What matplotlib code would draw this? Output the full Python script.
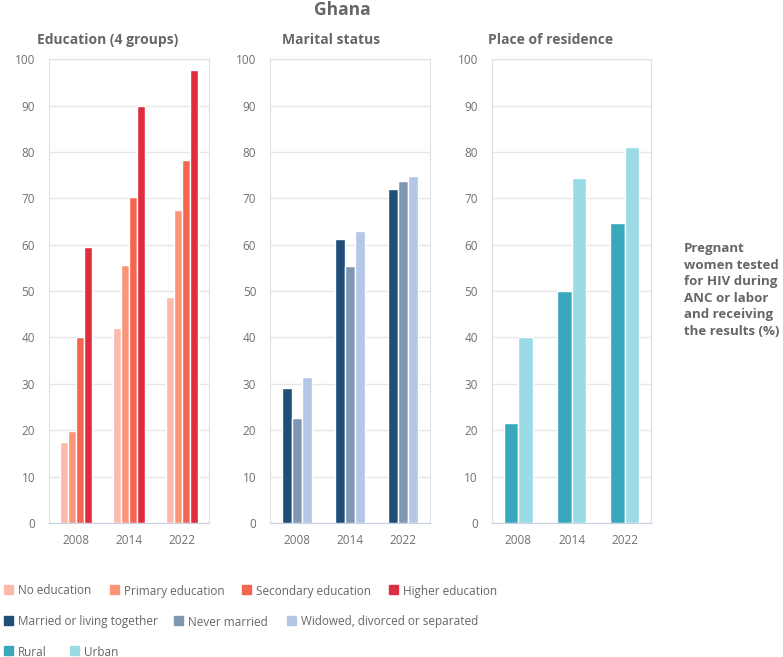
import numpy as np
import matplotlib.pyplot as plt
from matplotlib.patches import Rectangle

plt.rcParams['font.family'] = ['Open Sans', 'DejaVu Sans']

years = ['2008', '2014', '2022']

edu_labels = ['No education', 'Primary education', 'Secondary education', 'Higher education']
edu_values = [
    [17.4, 42.0, 48.8],
    [19.9, 55.6, 67.5],
    [40.2, 70.3, 78.3],
    [59.5, 89.9, 97.6],
]
edu_colors = ['#fdb9ab', '#fc9478', '#f4654f', '#de2d3e']

mar_labels = ['Married or living together', 'Never married', 'Widowed, divorced or separated']
mar_values = [
    [29.2, 61.3, 71.9],
    [22.7, 55.4, 73.7],
    [31.5, 62.9, 74.9],
]
mar_colors = ['#1f4e79', '#8097b1', '#b4c7e7']

res_labels = ['Rural', 'Urban']
res_values = [
    [21.6, 50.1, 64.7],
    [40.2, 74.4, 81.0],
]
res_colors = ['#3aa8bc', '#9bdbe6']

panels = [
    ('Education (4 groups)', edu_labels, edu_values, edu_colors, 0.0626, 0.047),
    ('Marital status', mar_labels, mar_values, mar_colors, 0.345, 0.36),
    ('Place of residence', res_labels, res_values, res_colors, 0.628, 0.623),
]

W, H = 783, 657
fig = plt.figure(figsize=(W / 100, H / 100), dpi=100)
text_c = '#666666'
grid_c = '#e6e6e6'

fig.text(342 / W, 1 - 10 / H, 'Ghana', ha='center', va='center',
         fontsize=12.5, fontweight='bold', color=text_c)

x = np.arange(len(years))
for title, labels, values, colors, left, tx in panels:
    ax = fig.add_axes([left, 0.204, 0.204, 0.706])
    n = len(labels)
    group = 0.6 if n == 4 else (0.57 if n == 3 else 0.55)
    bw = group / n
    for i, (vals, col) in enumerate(zip(values, colors)):
        off = (i - (n - 1) / 2) * bw
        ax.bar(x + off, vals, width=bw, color=col, edgecolor='white',
               linewidth=1, zorder=3)
    ax.set_xlim(-0.5, 2.5)
    ax.set_ylim(0, 100)
    ax.set_yticks(range(0, 101, 10))
    ax.set_xticks(x)
    ax.set_xticklabels(years)
    ax.tick_params(length=0, colors='#707070', labelsize=8.5)
    ax.tick_params(axis='y', pad=10)
    ax.tick_params(axis='x', pad=8)
    ax.grid(axis='y', color=grid_c, linewidth=1, zorder=0)
    for s in ax.spines.values():
        s.set_color('#dde0e8')
    ax.spines['bottom'].set_color('#c8d0e4')
    fig.text(tx, 1 - 40 / H, title, ha='left', va='center',
             fontsize=10, fontweight='bold', color=text_c)

fig.text(684 / W, 1 - 290 / H,
         'Pregnant\nwomen tested\nfor HIV during\nANC or labor\nand receiving\nthe results (%)',
         ha='left', va='center', fontsize=9.5, fontweight='bold', color=text_c,
         linespacing=1.35)

# legend rows
rows = [
    (edu_labels, edu_colors, [4, 110, 242, 389], 590),
    (mar_labels, mar_colors, [4, 174, 287], 621),
    (res_labels, res_colors, [4, 70], 651),
]
for labels, colors, xs, y in rows:
    for lab, col, px in zip(labels, colors, xs):
        fig.patches.append(Rectangle((px / W, 1 - (y + 4) / H), 9 / W, 9 / H,
                                     color=col, transform=fig.transFigure))
        fig.text((px + 14) / W, 1 - (y + 1) / H, lab, ha='left', va='center',
                 fontsize=8.5, color=text_c)

fig.savefig('out.png', dpi=100)
